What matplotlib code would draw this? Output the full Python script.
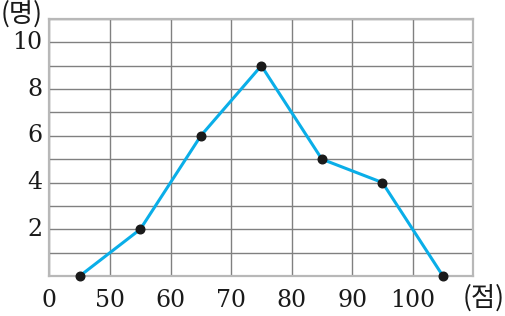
import numpy as np
import matplotlib.pyplot as plt

# ── Data ──────────────────────────────────────────────────────────────────────
scores = [45, 55, 65, 75, 85, 95, 105]      # class midpoints [점]
counts = [0, 2, 6, 9, 5, 4, 0]              # number of students [명]

x_ticks = [40, 50, 60, 70, 80, 90, 100]
x_labels = ['0', '50', '60', '70', '80', '90', '100']
y_ticks = [2, 4, 6, 8, 10]

NUM_FONT = ['DejaVu Serif']
KR_FONT = ['Noto Sans CJK KR', 'DejaVu Sans']

fig = plt.figure(figsize=(5.05, 3.16), dpi=100)
ax = fig.add_axes([0.098, 0.1266, 0.839, 0.8133])

ax.set_xlim(40, 110)
ax.set_ylim(0, 11)

# grid: every 10 points, every 1 student
ax.set_xticks(np.arange(40, 111, 10))
ax.set_yticks(np.arange(0, 12, 1))
ax.grid(True, color='#808080', linewidth=1.0)
ax.set_axisbelow(True)
ax.tick_params(length=0, labelbottom=False, labelleft=False)

for s in ax.spines.values():
    s.set_color('#b8b8b8')
    s.set_linewidth(1.6)

# frequency polygon
ax.plot(scores, counts, color='#0aaee8', linewidth=2.2, zorder=3, clip_on=False)
ax.plot(scores, counts, 'o', color='#1a1a1a', markersize=6.2, zorder=4, clip_on=False)

# tick labels ("0" at the broken origin)
for xv, lab in zip(x_ticks, x_labels):
    ax.text(xv, -1.03, lab, ha='center', va='center', fontsize=17,
            family=NUM_FONT, color='#1a1a1a')
for yv in y_ticks:
    ax.text(38.8, yv, str(yv), ha='right', va='center', fontsize=17,
            family=NUM_FONT, color='#1a1a1a')

fig.text(0.0425, 0.956, '(명)', ha='center', va='center', fontsize=19,
         family=KR_FONT, color='#1a1a1a')
fig.text(0.957, 0.057, '(점)', ha='center', va='center', fontsize=19,
         family=KR_FONT, color='#1a1a1a')

fig.savefig('out.png', dpi=100)
